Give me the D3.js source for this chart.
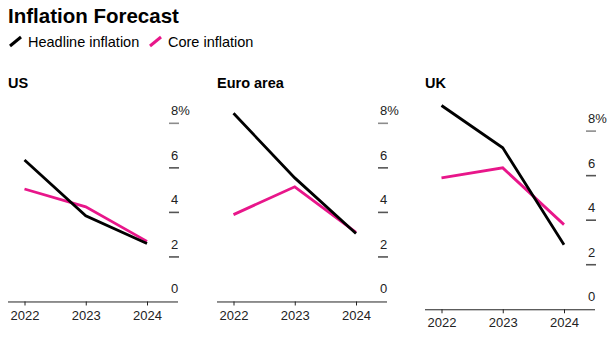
<!DOCTYPE html>
<html>
<head>
<meta charset="utf-8">
<script src="https://cdn.jsdelivr.net/npm/d3@7"></script>
<style>
  body { margin: 0; background: #fff; }
  svg { font-family: "Liberation Sans", Arial, sans-serif; }
</style>
</head>
<body>
<div id="chart"></div>
<script>
var years = [2022, 2023, 2024];
var regions = ["US", "Euro area", "UK"];
var headline = {
  "US": [6.35, 3.85, 2.6],
  "Euro area": [8.45, 5.55, 3.05],
  "UK": [9.15, 7.25, 2.9]
};
var core = {
  "US": [5.05, 4.25, 2.7],
  "Euro area": [3.9, 5.15, 3.1],
  "UK": [5.9, 6.35, 3.8]
};
var yTicks = [0, 2, 4, 6, 8];

var width = 615, height = 346;
var HEAD = "#000000", CORE = "#e8168a";

var svg = d3.select("#chart").append("svg")
  .attr("width", width)
  .attr("height", height);

// title + legend
svg.append("text")
  .attr("x", 8).attr("y", 23)
  .attr("font-size", 20.5).attr("font-weight", "bold")
  .text("Inflation Forecast");

var legend = [{ name: "Headline inflation", color: HEAD, x: 9 }, { name: "Core inflation", color: CORE, x: 149 }];
legend.forEach(function (d) {
  svg.append("line")
    .attr("x1", d.x + 1).attr("y1", 46)
    .attr("x2", d.x + 12).attr("y2", 37)
    .attr("stroke", d.color).attr("stroke-width", 3);
  svg.append("text")
    .attr("x", d.x + 19).attr("y", 47)
    .attr("font-size", 14.5)
    .text(d.name);
});

var panelLeft = [8, 217, 425];
var panelW = 170;
var plotTop = 105.5;
var unitPx = 22.27;

regions.forEach(function (r, i) {
  var left = panelLeft[i];
  var g = svg.append("g").attr("transform", "translate(" + left + ",0)");

  g.append("text")
    .attr("x", 0).attr("y", 88)
    .attr("font-size", 14.5).attr("font-weight", "bold")
    .text(r);

  var top = d3.max([8.8, d3.max(headline[r]), d3.max(core[r])]);
  var bottom = plotTop + top * unitPx;

  var x = d3.scalePoint()
    .domain(years)
    .range([16.5, 139]);

  var y = d3.scaleLinear()
    .domain([0, top])
    .range([bottom, plotTop]);

  // y ticks on the right, label sits above its tick
  yTicks.forEach(function (t) {
    if (t > 0) {
      g.append("line")
        .attr("x1", 161).attr("x2", 171)
        .attr("y1", y(t)).attr("y2", y(t))
        .attr("stroke", t === 8 ? "#8c8c8c" : "#555").attr("stroke-width", 1.6);
    }
    g.append("text")
      .attr("x", 163).attr("y", y(t) - 8)
      .attr("font-size", 13).attr("fill", "#222")
      .text(t === 8 ? "8%" : t);
  });

  // x axis
  var xAxis = d3.axisBottom(x).tickSize(4).tickPadding(5).tickFormat(d3.format("d"));
  var ax = g.append("g")
    .attr("transform", "translate(0," + y(0) + ")")
    .call(xAxis);
  ax.select(".domain").attr("d", "M0,0.5H" + panelW).attr("stroke", "#222");
  ax.selectAll(".tick line").attr("stroke", "#222");
  ax.selectAll(".tick text")
    .attr("font-size", 13).attr("fill", "#222")
    .attr("font-family", "Liberation Sans, Arial, sans-serif");

  var line = d3.line()
    .x(function (d, j) { return x(years[j]); })
    .y(function (d) { return y(d); });

  g.append("path")
    .datum(core[r])
    .attr("d", line)
    .attr("fill", "none")
    .attr("stroke", CORE)
    .attr("stroke-width", 2.8);

  g.append("path")
    .datum(headline[r])
    .attr("d", line)
    .attr("fill", "none")
    .attr("stroke", HEAD)
    .attr("stroke-width", 2.8);
});
</script>
</body>
</html>
